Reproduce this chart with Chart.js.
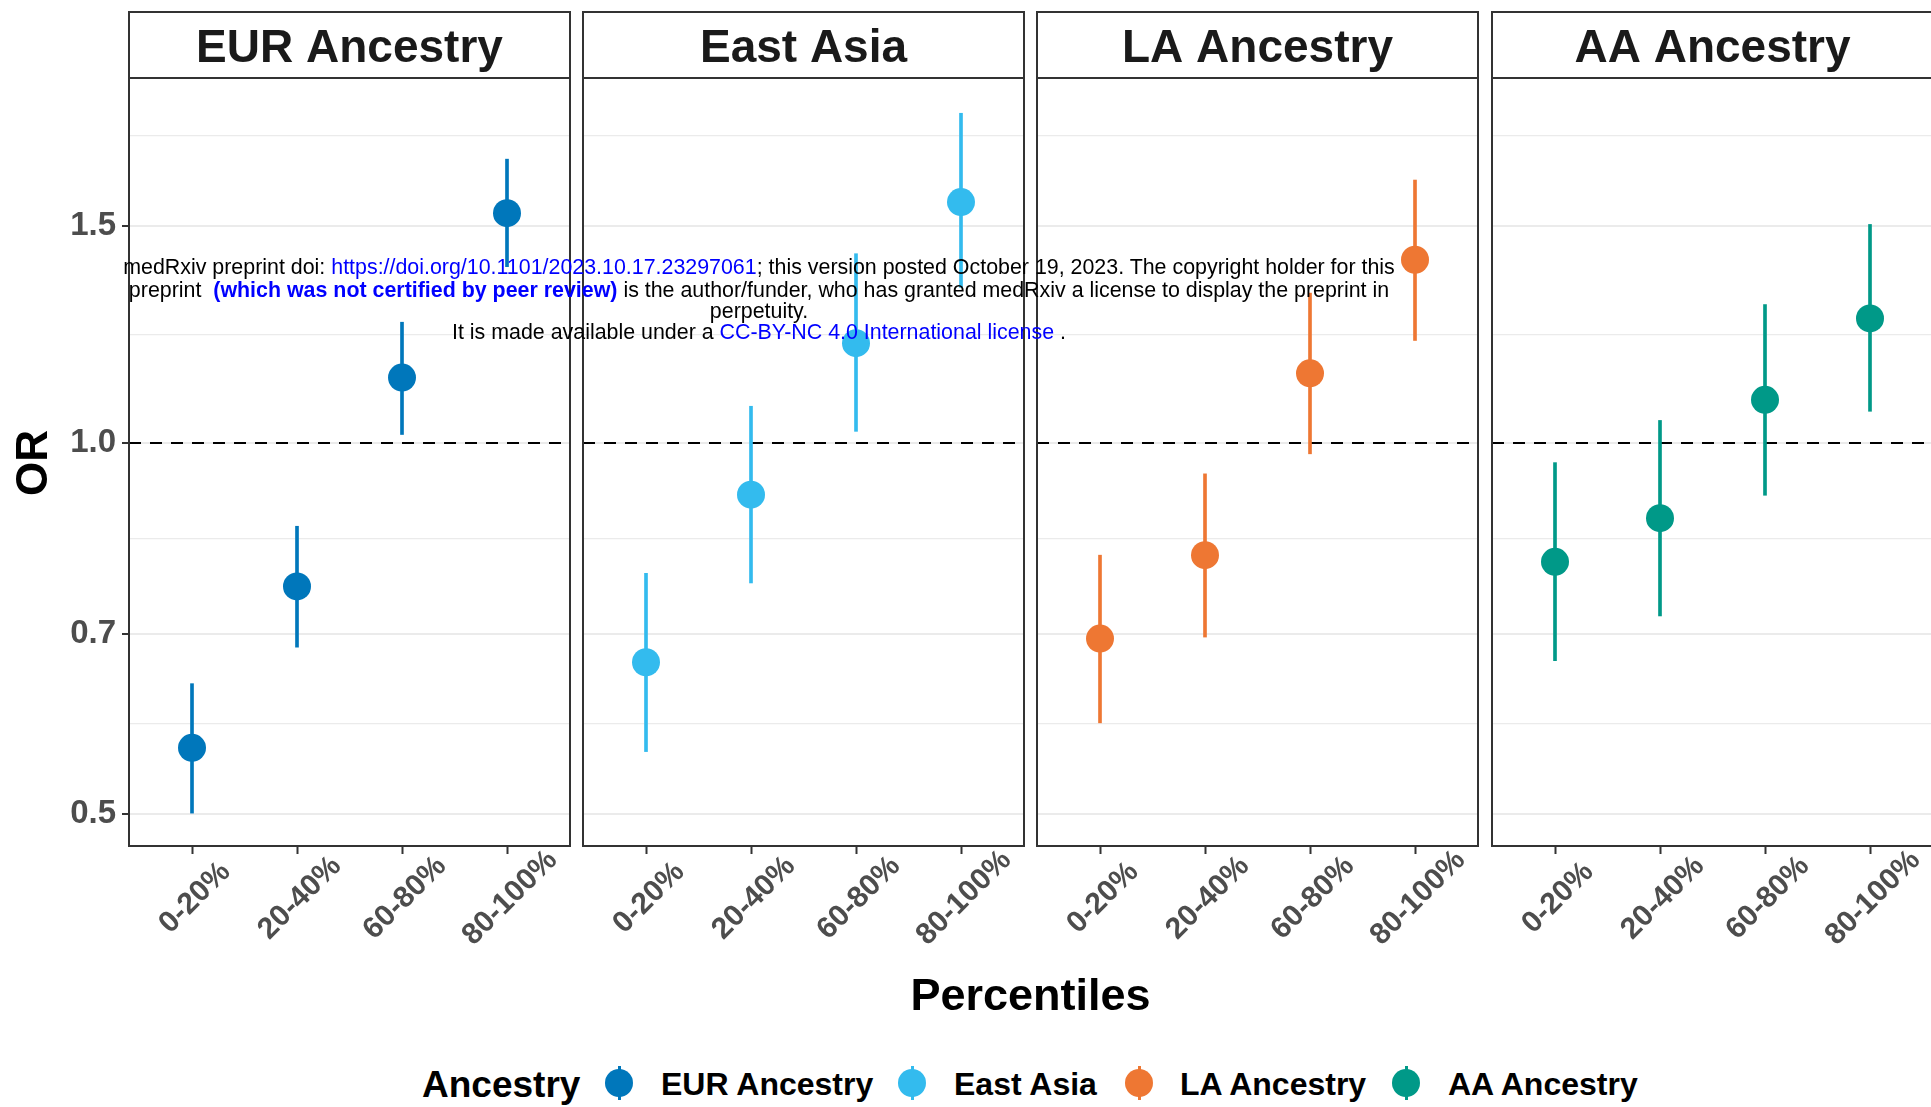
<!DOCTYPE html>
<html>
<head>
<meta charset="utf-8">
<script src="https://cdn.jsdelivr.net/npm/chart.js@4.4.0/dist/chart.umd.min.js"></script>
<style>
html, body { margin:0; padding:0; background:#fff; overflow:hidden; width:1931px; height:1107px; }
body { position:relative; font-family:"Liberation Sans", Arial, sans-serif; }
canvas { position:absolute; }
.abs { position:absolute; line-height:1; white-space:pre; }
.key-dot { position:absolute; width:28px; height:28px; border-radius:50%; }
.key-line { position:absolute; width:3px; height:34px; }
.wm { position:absolute; left:0; width:1518px; text-align:center; font-size:21.4px; line-height:1; white-space:pre; color:#000; z-index:5; }
.blue { color:#0000FF; }
</style>
</head>
<body>
<canvas id="c0"></canvas>
<canvas id="c1"></canvas>
<canvas id="c2"></canvas>
<canvas id="c3"></canvas>

<div class="abs" style="left:32px;top:463px;font-size:44px;font-weight:bold;color:#000;transform:translate(-50%,-50%) rotate(-90deg);">OR</div>
<div class="abs" style="left:530.5px;width:1000px;text-align:center;top:972px;font-size:45px;font-weight:bold;color:#000;">Percentiles</div>

<div id="legend"></div>

<div class="wm" style="top:257px;">medRxiv preprint doi: <span class="blue">https://doi.org/10.1101/2023.10.17.23297061</span>; this version posted October 19, 2023. The copyright holder for this</div>
<div class="wm" style="top:279.5px;">preprint  <b class="blue">(which was not certified by peer review)</b> is the author/funder, who has granted medRxiv a license to display the preprint in</div>
<div class="wm" style="top:301px;">perpetuity.</div>
<div class="wm" style="top:321.5px;">It is made available under a <span class="blue">CC-BY-NC 4.0 International license</span> .</div>

<script>
// ---------------- data ----------------
const percentiles = ['0-20%', '20-40%', '60-80%', '80-100%'];
const ancestries = ['EUR Ancestry', 'East Asia', 'LA Ancestry', 'AA Ancestry'];

const eurOR    = [0.566, 0.765, 1.130, 1.536];
const eurLower = [0.501, 0.683, 1.016, 1.390];
const eurUpper = [0.638, 0.856, 1.253, 1.699];

const eastAsiaOR    = [0.664, 0.908, 1.205, 1.568];
const eastAsiaLower = [0.562, 0.770, 1.022, 1.337];
const eastAsiaUpper = [0.784, 1.071, 1.424, 1.851];

const laOR    = [0.694, 0.811, 1.139, 1.408];
const laLower = [0.593, 0.696, 0.980, 1.211];
const laUpper = [0.811, 0.944, 1.323, 1.634];

const aaOR    = [0.801, 0.869, 1.084, 1.262];
const aaLower = [0.666, 0.724, 0.907, 1.061];
const aaUpper = [0.964, 1.043, 1.295, 1.504];

const yTickValues = [0.5, 0.7, 1.0, 1.5];
const yTickLabels = ['0.5', '0.7', '1.0', '1.5'];
const yMinorGrid  = [0.592, 0.837, 1.225, 1.775];
const referenceOR = 1.0;

// ---------------- styling ----------------
const palette = ['#0077BB', '#33BBEE', '#EE7733', '#009988'];
const seriesOR    = [eurOR, eastAsiaOR, laOR, aaOR];
const seriesLower = [eurLower, eastAsiaLower, laLower, aaLower];
const seriesUpper = [eurUpper, eastAsiaUpper, laUpper, aaUpper];

const panelLefts = [129, 583, 1037, 1492];
const panelW = 441;
const canvasTop = 8;
const padTop = 70;
const plotH = 768;
const xAxisH = 126;
const yMin = 0.47116, yMax = 1.977;

Chart.defaults.font.family = '"Liberation Sans", Arial, sans-serif';

const panelPlugin = {
  id: 'panel',
  beforeDatasetsDraw(chart) {
    const {ctx, chartArea: a, scales: {y}} = chart;
    const py = y.getPixelForValue(referenceOR);
    ctx.save();
    ctx.strokeStyle = '#000';
    ctx.lineWidth = 2;
    ctx.setLineDash([12, 9]);
    ctx.beginPath();
    ctx.moveTo(a.left, py);
    ctx.lineTo(a.right, py);
    ctx.stroke();
    ctx.restore();
  },
  afterDraw(chart, args, opts) {
    const {ctx, chartArea: a, scales: {x}} = chart;
    ctx.save();
    ctx.strokeStyle = '#333333';
    ctx.lineWidth = 2;
    ctx.strokeRect(a.left, a.top, a.right - a.left, a.bottom - a.top);
    ctx.fillStyle = '#ffffff';
    ctx.fillRect(a.left, 4, a.right - a.left, a.top - 4);
    ctx.strokeRect(a.left, 4, a.right - a.left, a.top - 4);
    ctx.fillStyle = '#1a1a1a';
    ctx.font = 'bold 46px "Liberation Sans", Arial, sans-serif';
    ctx.textAlign = 'center';
    ctx.textBaseline = 'alphabetic';
    ctx.fillText(opts.title, (a.left + a.right) / 2, a.top - 16);
    ctx.fillStyle = '#4D4D4D';
    ctx.font = 'bold 30px "Liberation Sans", Arial, sans-serif';
    percentiles.forEach((lab, i) => {
      const px = x.getPixelForValue(i + 1) + 3;
      const py = a.bottom + 52;
      ctx.save();
      ctx.translate(px, py);
      ctx.rotate(-Math.PI / 4);
      ctx.textAlign = 'center';
      ctx.textBaseline = 'middle';
      ctx.fillText(lab, 0, 0);
      ctx.restore();
    });
    ctx.restore();
  }
};

function isMajor(v) { return yTickValues.indexOf(v) >= 0; }

function makeChart(idx) {
  const yW = idx === 0 ? 129 : 6;
  const cv = document.getElementById('c' + idx);
  cv.width = yW + panelW + 6;
  cv.height = padTop + plotH + xAxisH;
  cv.style.left = (panelLefts[idx] - yW) + 'px';
  cv.style.top = canvasTop + 'px';
  const color = palette[idx];
  const ors = seriesOR[idx], los = seriesLower[idx], his = seriesUpper[idx];

  new Chart(cv, {
    type: 'bar',
    data: {
      datasets: [
        {
          type: 'scatter',
          data: percentiles.map((p, i) => ({x: i + 1, y: ors[i]})),
          backgroundColor: color,
          borderColor: color,
          pointRadius: 14,
          pointHoverRadius: 14,
          pointBorderWidth: 0,
          order: 0
        },
        {
          type: 'bar',
          data: percentiles.map((p, i) => ({x: i + 1, y: [los[i], his[i]]})),
          backgroundColor: color,
          borderWidth: 0,
          barThickness: 3,
          grouped: false,
          order: 1
        }
      ]
    },
    options: {
      responsive: false,
      animation: false,
      devicePixelRatio: 1,
      layout: { autoPadding: false, padding: { top: padTop, right: 6, left: 0, bottom: 0 } },
      plugins: {
        legend: { display: false },
        tooltip: { enabled: false },
        panel: { title: ancestries[idx] }
      },
      scales: {
        x: {
          type: 'linear',
          min: 0.4,
          max: 4.6,
          offset: false,
          afterBuildTicks: s => { s.ticks = percentiles.map((p, i) => ({value: i + 1})); },
          afterFit: s => { s.height = xAxisH; },
          ticks: { display: false },
          grid: { drawOnChartArea: false, drawTicks: true, tickLength: 8, tickColor: '#333333', tickWidth: 2, offset: false },
          border: { display: false }
        },
        y: {
          type: 'logarithmic',
          min: yMin,
          max: yMax,
          bounds: 'data',
          afterBuildTicks: s => {
            const vals = yTickValues.concat(yMinorGrid).sort((p, q) => p - q);
            s.ticks = vals.map(v => ({value: v}));
          },
          afterFit: s => { s.width = yW; },
          ticks: {
            display: idx === 0,
            autoSkip: false,
            padding: 6,
            color: '#4D4D4D',
            font: { size: 33, weight: 'bold' },
            callback: v => { const k = yTickValues.indexOf(v); return k >= 0 ? yTickLabels[k] : ''; }
          },
          grid: {
            color: '#EBEBEB',
            lineWidth: c => (c.tick && isMajor(c.tick.value)) ? 2 : 1.2,
            drawTicks: idx === 0,
            tickLength: 7,
            tickWidth: 2,
            tickColor: c => (c.tick && isMajor(c.tick.value)) ? '#333333' : 'rgba(0,0,0,0)'
          },
          border: { display: false }
        }
      }
    },
    plugins: [panelPlugin]
  });
}

[0, 1, 2, 3].forEach(makeChart);

// ---------------- legend ----------------
const legend = document.getElementById('legend');
const keyX = [619, 912, 1139, 1406];
const labelX = [661, 954, 1180, 1448];
let html = '<div class="abs" style="left:422px;top:1066px;font-size:37px;font-weight:bold;color:#000;">Ancestry</div>';
ancestries.forEach((name, i) => {
  html += '<div class="key-line" style="left:' + (keyX[i] - 1.5) + 'px;top:1066px;background:' + palette[i] + ';"></div>';
  html += '<div class="key-dot" style="left:' + (keyX[i] - 14) + 'px;top:1069px;background:' + palette[i] + ';"></div>';
  html += '<div class="abs" style="left:' + labelX[i] + 'px;top:1068px;font-size:32px;font-weight:bold;color:#000;">' + name + '</div>';
});
legend.innerHTML = html;
</script>
</body>
</html>
